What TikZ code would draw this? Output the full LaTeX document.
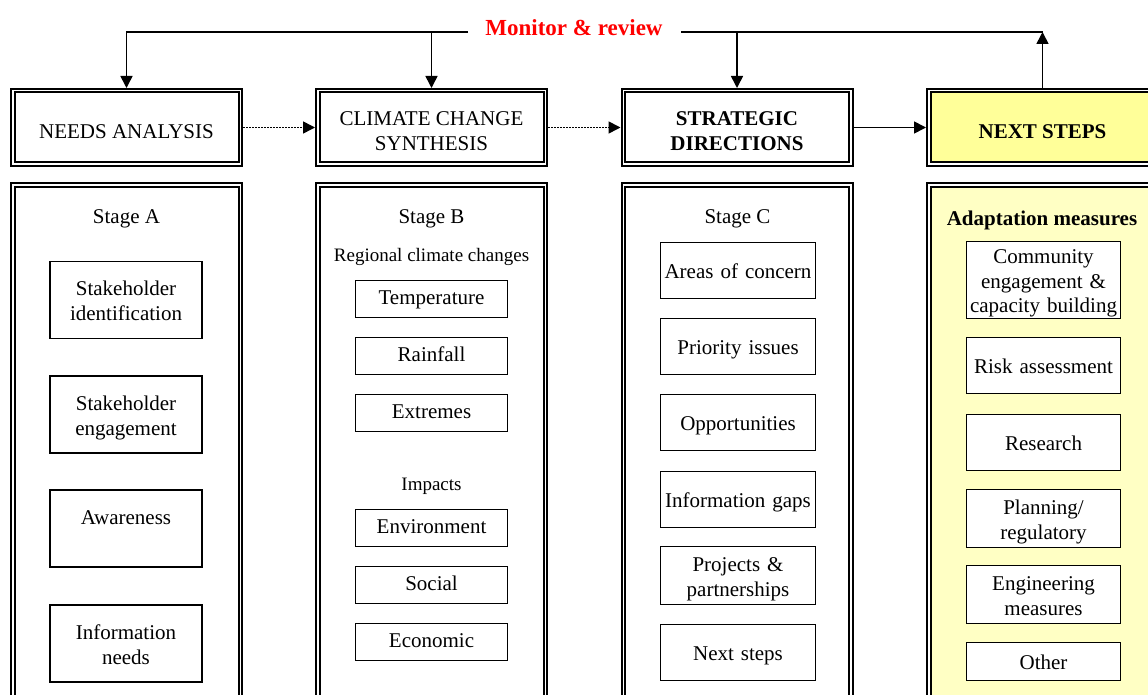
\documentclass[tikz,border=0pt]{standalone}
\usepackage{fontspec}
\setmainfont{Liberation Serif}
\usepackage{xcolor}
\usetikzlibrary{arrows.meta}

\definecolor{hdryellow}{RGB}{255,255,153}
\definecolor{bodyyellow}{RGB}{255,255,196}
\definecolor{monred}{RGB}{255,0,0}

\tikzset{
  bigtxt/.style={font=\fontsize{21}{25}\selectfont},
  bigbold/.style={font=\fontsize{21}{25}\selectfont\bfseries},
  smalltxt/.style={font=\fontsize{19}{23}\selectfont},
  frame/.style={draw, line width=2pt, double=white, double distance=1.5pt,
    outer sep=2.75pt, inner sep=0pt, minimum width=227.5pt},
  header/.style={frame, minimum height=73.5pt, align=center},
  oneline/.style={execute at begin node={\rule{0pt}{22pt}}},
  panel/.style={frame, minimum height=575pt},
  boxbase/.style={draw, line width=1.3pt, align=center, inner sep=1pt,
    text width=150pt, bigtxt},
  item/.style={boxbase, execute at begin node={\rule{0pt}{23.5pt}},
    execute at end node=\strut},
  cell/.style={boxbase, minimum height=37pt, execute at begin node=\strut,
    execute at end node=\strut},
  tightitem/.style={boxbase, font=\fontsize{21}{24.5}\selectfont,
    execute at begin node={\rule{0pt}{21.5pt}},
    execute at end node={\rule[-3.5pt]{0pt}{3.5pt}}},
  flow/.style={line width=1.6pt, -{Triangle[length=12pt,width=12pt]}},
  dots/.style={flow, dash pattern=on 1.5pt off 1.5pt}
}

\begin{document}
\begin{tikzpicture}[x=1pt, y=-1pt]
    \useasboundingbox (0,0) rectangle (1148,695);
    \clip (0,0) rectangle (1148,695);

    % headers
    \node[header, oneline, bigtxt] (needs) at (126.5,127.5) {NEEDS ANALYSIS};
    \node[header, bigtxt] (synth) at (431.5,127.5)
        {\begin{tabular}{@{}c@{}}\rule{0pt}{29.5pt}CLIMATE CHANGE\\SYNTHESIS\end{tabular}};
    \node[header, bigbold] (strat) at (737,127.5)
        {\begin{tabular}{@{}c@{}}\rule{0pt}{29.5pt}STRATEGIC\\DIRECTIONS\end{tabular}};
    \node[header, oneline, bigbold, fill=hdryellow] (next) at (1042.5,127.5) {NEXT STEPS};

    % panels
    \node[panel] (panelA) at (126.5,472.5) {};
    \node[panel] (panelB) at (431.5,472.5) {};
    \node[panel] (panelC) at (737,472.5) {};
    \node[panel, fill=bodyyellow] (panelD) at (1042.5,472.5) {};

    % stage A
    \node[bigtxt] (stageA) at (126.5,219) {Stage A};
    \node[item, minimum height=77pt] (ident) at (126,300) {Stakeholder\\identification};
    \node[item, minimum height=77pt] (engage) at (126,414.5) {Stakeholder\\engagement};
    \node[item, minimum height=77pt] (aware) at (126,528.5) {Awareness\\\mbox{}};
    \node[item, minimum height=77pt] (infoneeds) at (126,643.5) {Information\\needs};

    % stage B
    \node[bigtxt] (stageB) at (431.5,219) {Stage B};
    \node[smalltxt] (regional) at (431.5,257) {Regional climate changes};
    \node[cell] (temp) at (431.5,299) {Temperature};
    \node[cell] (rain) at (431.5,356) {Rainfall};
    \node[cell] (extremes) at (431.5,413) {Extremes};
    \node[smalltxt] (impacts) at (431.5,486) {Impacts};
    \node[cell] (envir) at (431.5,528) {Environment};
    \node[cell] (social) at (431.5,585) {Social};
    \node[cell] (econ) at (431.5,642) {Economic};

    % stage C
    \node[bigtxt] (stageC) at (737.5,219) {Stage C};
    \node[item, text width=153pt, minimum height=56pt] (concern) at (738,270.5) {Areas of concern};
    \node[item, text width=153pt, minimum height=56pt] (priority) at (738,346.5) {Priority issues};
    \node[item, text width=153pt, minimum height=56pt] (opport) at (738,422.5) {Opportunities};
    \node[item, text width=153pt, minimum height=56pt] (gaps) at (738,499.5) {Information gaps};
    \node[item, text width=153pt, minimum height=56pt] (projects) at (738,575.5) {Projects \&\\partnerships};
    \node[item, text width=153pt, minimum height=56pt] (nextstep) at (738,652.5) {Next steps};

    % next steps
    \node[bigbold] (adapt) at (1042,220) {Adaptation measures};
    \node[tightitem, fill=white, text width=152pt, minimum height=76pt] (community) at (1043.5,280) {Community\\engagement \&\\capacity building};
    \node[item, fill=white, text width=152pt, minimum height=56pt] (risk) at (1043.5,365.5) {Risk assessment};
    \node[item, fill=white, text width=152pt, minimum height=56pt] (research) at (1043.5,442.5) {Research};
    \node[item, fill=white, text width=152pt, minimum height=56pt] (planning) at (1043.5,518.5) {Planning/\\regulatory};
    \node[item, fill=white, text width=152pt, minimum height=56pt] (engin) at (1043.5,594.5) {Engineering\\measures};
    \node[item, fill=white, text width=152pt, minimum height=38pt] (other) at (1043.5,661.5) {Other};

    % monitor and review loop
    \node[font=\fontsize{23}{27}\selectfont\bfseries, text=monred] (monitor) at (574,28) {Monitor \& review};
    \coordinate (monL) at (468,32);
    \coordinate (monR) at (681,32);

    \draw[flow] (monL) -| (needs.north);
    \draw[flow] (synth.north |- monL) -- (synth.north);
    \draw[line width=1.6pt] (monR) -- (next.north |- monR);
    \draw[flow] (strat.north |- monR) -- (strat.north);
    \draw[flow] (next.north) -- (next.north |- monR);

    \draw[dots] (needs.east) -- (synth.west);
    \draw[dots] (synth.east) -- (strat.west);
    \draw[flow] (strat.east) -- (next.west);
\end{tikzpicture}
\end{document}
